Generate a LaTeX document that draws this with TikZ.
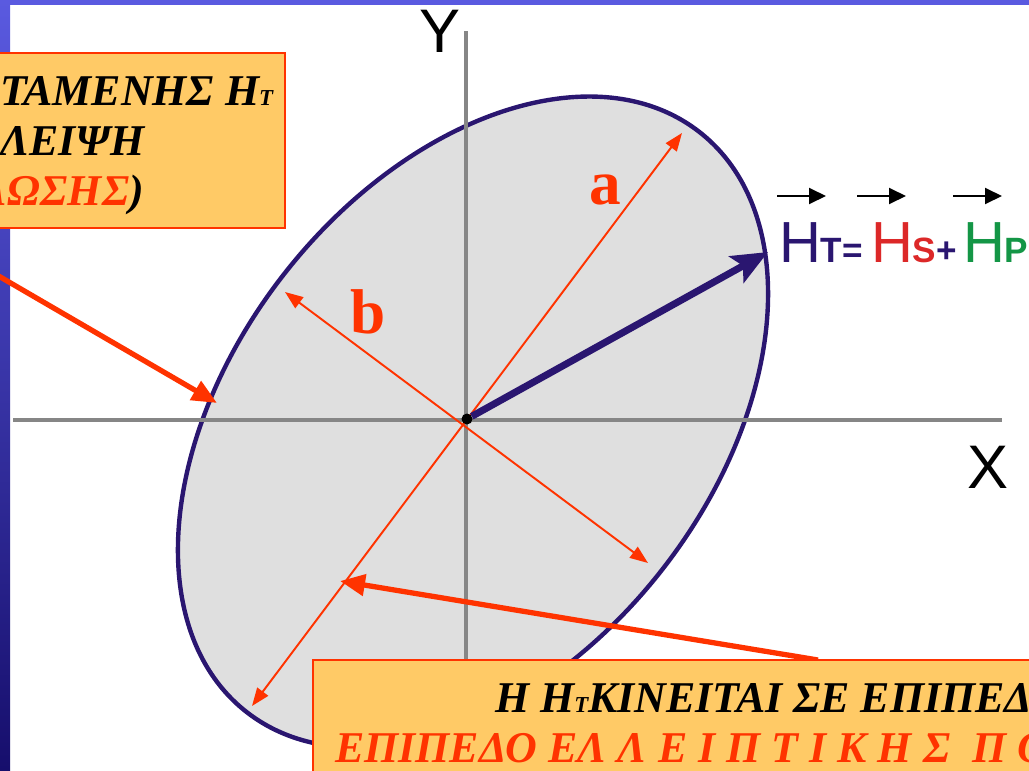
\documentclass[tikz,border=0pt]{standalone}
\usepackage{fontspec}
\setmainfont{Liberation Serif}
\setsansfont{Liberation Sans}
\usepackage{xcolor}
\usepackage{tikz}
\usetikzlibrary{arrows.meta, positioning}
\definecolor{elnavy}{RGB}{42,22,112}
\definecolor{elred}{RGB}{255,51,0}
\definecolor{elorange}{RGB}{255,202,102}
\definecolor{elgray}{RGB}{134,134,134}
\definecolor{elfill}{RGB}{223,223,223}
\definecolor{elbar}{RGB}{90,90,224}
\definecolor{elbardark}{RGB}{22,14,108}
\definecolor{hsred}{RGB}{220,40,40}
\definecolor{hpgreen}{RGB}{20,150,70}
\newcommand{\idx}[1]{{\fontsize{20}{20}\selectfont\bfseries #1}}
\newcommand{\notesub}[1]{{\fontsize{13}{13}\selectfont #1}}

\begin{document}
\begin{tikzpicture}[
  x=0.02cm, y=-0.02cm,
  every node/.style={inner sep=0pt, outer sep=0pt},
  axis/.style={draw=elgray, line width=2.8pt},
  axlab/.style={font=\sffamily\fontsize{35}{35}\selectfont},
  semi/.style={draw=elred, line width=1.1pt, {Triangle[length=0.36cm, width=0.27cm]}-{Triangle[length=0.36cm, width=0.27cm]}},
  semilab/.style={text=elred, font=\bfseries\fontsize{36}{36}\selectfont},
  field/.style={draw=elnavy, line width=4pt, -{Stealth[length=0.72cm, width=0.6cm, inset=0.15cm]}},
  callout/.style={draw=elred, line width=3pt, -{Triangle[length=0.5cm, width=0.42cm]}},
  note/.style={fill=elorange, draw=elred, line width=1pt},
  notetext/.style={font=\bfseries\itshape\fontsize{25}{25}\selectfont},
  htext/.style={font=\sffamily\fontsize{33}{33}\selectfont},
  vec/.style={draw=black, line width=1.1pt, -{Triangle[length=0.34cm, width=0.32cm]}}
]
\useasboundingbox (0,0) rectangle (1029,771);
\clip (0,0) rectangle (1029,771);
\fill[elbar] (0,0) rectangle (1029,5);
\shade[top color=elbar, bottom color=elbardark] (0,0) rectangle (10,771);

\filldraw[fill=elfill, draw=elnavy, line width=2.5pt, rotate around={52:(473,422)}] (473,422) ellipse [x radius=7.36cm, y radius=4.8cm];

\coordinate (xfrom) at (13,420);
\coordinate (xto) at (1002,420);
\coordinate (yfrom) at (466,660);
\coordinate (yto) at (466,31);
\draw[axis] (xfrom) -- (xto);
\draw[axis] (yfrom) -- (yto);
\node[axlab, anchor=base] (ylab) at (440,52) {Y};
\node[axlab, anchor=base] (xlab) at (988,488) {X};

\coordinate (a1) at (682,133);
\coordinate (a2) at (252,706);
\coordinate (b1) at (285,292);
\coordinate (b2) at (648,563);
\draw[semi] (a2) -- (a1);
\draw[semi] (b1) -- (b2);
\node[semilab, anchor=base] (alab) at (605,204) {a};
\node[semilab, anchor=base] (blab) at (368,333) {b};

\node[circle, fill=black, minimum size=0.22cm] (O) at (467,419) {};
\coordinate (htip) at (768,252);
\draw[field] (O) -- (htip);

\node[htext, anchor=base west, text=elnavy] (hT) at (779,262) {H\idx{T=}};
\node[htext, anchor=base west, text=hsred] (hS) at (871,262) {H\idx{S}\textcolor{elnavy}{\idx{+}}};
\node[htext, anchor=base west, text=hpgreen] (hP) at (963,262) {H\idx{P}};
\draw[vec] ([shift={(-2,-66)}]hT.base west) -- +(49,0);
\draw[vec] ([shift={(-14,-66)}]hS.base west) -- +(49,0);
\draw[vec] ([shift={(-10,-66)}]hP.base west) -- +(49,0);

\coordinate (polfrom) at (-10,271);
\coordinate (polto) at (217,403);
\draw[callout] (polfrom) -- (polto);
\node[note, anchor=north east, minimum width=6.2cm, minimum height=3.5cm] (polbox) at (285,53) {};
\node[notetext, anchor=base west] (pol1) at (0,105) {ΤΑΜΕΝΗΣ Η\notesub{Τ}};
\node[notetext, anchor=base west] (pol2) at (0,155) {ΛΕΙΨΗ};
\node[notetext, anchor=base west] (pol3) at (8,205) {\textcolor{elred}{\llap{Λ}ΩΣΗΣ})};

\coordinate (planfrom) at (818,660);
\coordinate (planto) at (340,581);
\draw[callout] (planfrom) -- (planto);
\node[note, anchor=north west, minimum width=16cm, minimum height=3cm] (planbox) at (313,660) {};
\node[notetext, anchor=base west] (plan1) at (495,712) {Η Η\notesub{Τ}ΚΙΝΕΙΤΑΙ ΣΕ ΕΠΙΠΕΔ};
\node[notetext, anchor=base west, text=elred] (plan2) at (335,762) {ΕΠΙΠΕΔΟ ΕΛ Λ Ε Ι Π Τ Ι Κ Η Σ\ \ Π Ο};
\end{tikzpicture}
\end{document}
